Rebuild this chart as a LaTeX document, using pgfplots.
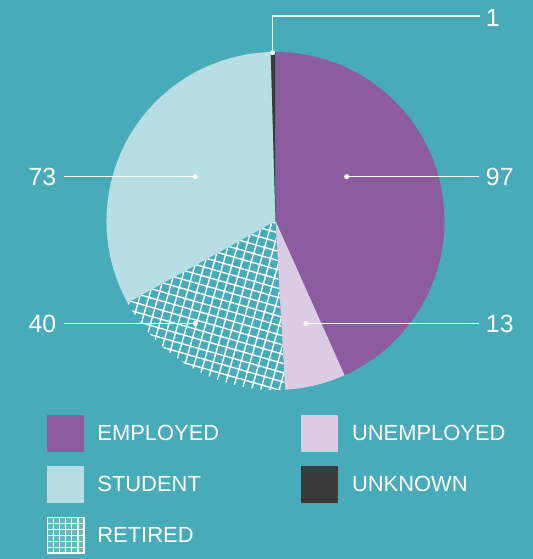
\documentclass[border=0pt]{standalone}
\usepackage{pgfplots}
\pgfplotsset{compat=1.18}
\usepackage{pgfplotstable}
\usetikzlibrary{patterns.meta}
\usepackage{fontspec}
\setmainfont{Liberation Sans}
\definecolor{bg}{RGB}{72,171,186}
\definecolor{cEmp}{RGB}{141,92,160}
\definecolor{cUnemp}{RGB}{220,204,227}
\definecolor{cStud}{RGB}{182,222,228}
\definecolor{cUnk}{RGB}{58,58,58}

\pgfplotstableread{
cat value
EMPLOYED 97
UNEMPLOYED 13
RETIRED 40
STUDENT 73
UNKNOWN 1
}\piedata

\newcommand\pieslice[3]{%
  \fill[#3] (axis cs:0,0) -- (axis cs:{169*cos(#1)},{169*sin(#1)})
     arc[start angle=#1, end angle=#2, radius=169] -- cycle;}

\begin{document}
\begin{tikzpicture}
\pgfplotstablegetelem{0}{value}\of\piedata \let\vA\pgfplotsretval
\pgfplotstablegetelem{1}{value}\of\piedata \let\vB\pgfplotsretval
\pgfplotstablegetelem{2}{value}\of\piedata \let\vC\pgfplotsretval
\pgfplotstablegetelem{3}{value}\of\piedata \let\vD\pgfplotsretval
\pgfplotstablegetelem{4}{value}\of\piedata \let\vE\pgfplotsretval
\pgfmathsetmacro\tot{\vA+\vB+\vC+\vD+\vE}
\pgfmathsetmacro\aA{90}
\pgfmathsetmacro\aB{\aA-360*(\vA/\tot)}
\pgfmathsetmacro\aC{\aB-360*(\vB/\tot)}
\pgfmathsetmacro\aD{\aC-360*(\vC/\tot)}
\pgfmathsetmacro\aE{\aD-360*(\vD/\tot)}
\pgfmathsetmacro\aF{\aE-360*(\vE/\tot)}

\useasboundingbox (0,0) rectangle (533bp,559bp);
\fill[bg] (0,0) rectangle (533bp,559bp);

\begin{axis}[
  at={(0,0)}, anchor=south west,
  width=533bp, height=559bp, scale only axis,
  xmin=-275.5, xmax=257.5, ymin=-338, ymax=221,
  hide axis, clip=false,
]
\pieslice{\aA}{\aB}{cEmp}
\pieslice{\aB}{\aC}{cUnemp}
\pieslice{\aC}{\aD}{bg}
\pieslice{\aC}{\aD}{pattern={Hatch[angle=-16,distance=8.9pt,line width=1.4pt]},pattern color=white}
\pieslice{\aD}{\aE}{cStud}
\pieslice{\aE}{\aF}{cUnk}

% leader lines
\addplot[white, line width=1.3pt, no marks] coordinates {(71.2,44.3) (203.1,44.3)};
\addplot[white, line width=1.3pt, no marks] coordinates {(-211.6,44.3) (-80.1,44.3)};
\addplot[white, line width=1.3pt, no marks] coordinates {(-211.2,-102.5) (-80.1,-102.5)};
\addplot[white, line width=1.3pt, no marks] coordinates {(30.5,-102.5) (203.1,-102.5)};
\addplot[white, line width=1.3pt, no marks] coordinates {(-2.8,168.3) (-2.8,205) (204.5,205)};
\addplot[white, only marks, mark=*, mark size=2.3pt] coordinates {(71.2,44.3) (-80.1,44.3) (-80.1,-102.5) (30.5,-102.5) (-2.8,168.3)};

% value labels
\node[white, anchor=west, inner sep=0pt, font=\fontsize{25}{30}\selectfont] at (axis cs:210.2,44.5) {97};
\node[white, anchor=west, inner sep=0pt, font=\fontsize{25}{30}\selectfont] at (axis cs:210.2,-103) {13};
\node[white, anchor=west, inner sep=0pt, font=\fontsize{25}{30}\selectfont] at (axis cs:210.2,203.5) {1};
\node[white, anchor=east, inner sep=0pt, font=\fontsize{25}{30}\selectfont] at (axis cs:-219,44.5) {73};
\node[white, anchor=east, inner sep=0pt, font=\fontsize{25}{30}\selectfont] at (axis cs:-219,-103) {40};

% legend
\fill[cEmp] (axis cs:-228.6,-194) rectangle (axis cs:-191.5,-230.7);
\fill[cStud] (axis cs:-228.6,-245) rectangle (axis cs:-191.5,-281.7);
\fill[bg!85!white] (axis cs:-228.6,-296) rectangle (axis cs:-191.5,-332.7);
\pgfplotsinvokeforeach{0,...,6}{%
  \draw[white, line width=1.3pt] (axis cs:{-227.95+#1*6.075},-296) -- (axis cs:{-227.95+#1*6.075},-332.7);
  \draw[white, line width=1.3pt] (axis cs:-228.6,{-296.65-#1*5.9}) -- (axis cs:-191.5,{-296.65-#1*5.9});
}
\fill[cUnemp] (axis cs:25.3,-194) rectangle (axis cs:62.4,-230.7);
\fill[cUnk] (axis cs:25.3,-245) rectangle (axis cs:62.4,-281.7);

\node[white, anchor=west, inner sep=0pt, font=\fontsize{22}{26}\selectfont] at (axis cs:-178.3,-212.4) {EMPLOYED};
\node[white, anchor=west, inner sep=0pt, font=\fontsize{22}{26}\selectfont] at (axis cs:-178.3,-263.4) {STUDENT};
\node[white, anchor=west, inner sep=0pt, font=\fontsize{22}{26}\selectfont] at (axis cs:-178.3,-314) {RETIRED};
\node[white, anchor=west, inner sep=0pt, font=\fontsize{22}{26}\selectfont] at (axis cs:76.3,-212.4) {UNEMPLOYED};
\node[white, anchor=west, inner sep=0pt, font=\fontsize{22}{26}\selectfont] at (axis cs:76.3,-263.4) {UNKNOWN};
\end{axis}
\end{tikzpicture}
\end{document}
